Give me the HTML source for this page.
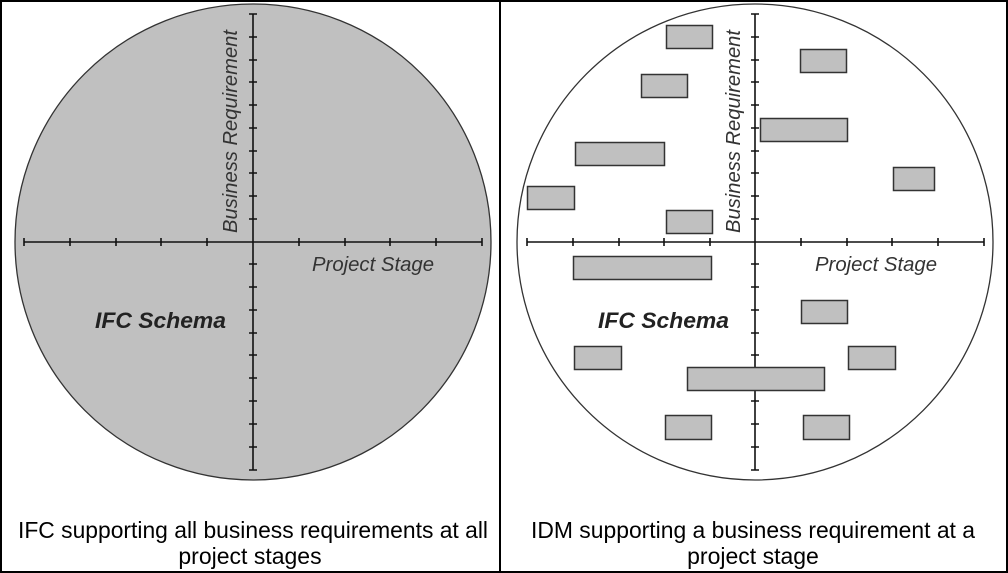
<!DOCTYPE html>
<html><head><style>
html,body{margin:0;padding:0;background:#fff}
svg{display:block}
</style></head><body>
<svg width="1008" height="573" viewBox="0 0 1008 573" xmlns="http://www.w3.org/2000/svg" font-family="Liberation Sans, Arial, sans-serif">
<rect x="1" y="1" width="1006" height="571" fill="#fff" stroke="#000" stroke-width="2"/>
<line x1="500" y1="0" x2="500" y2="573" stroke="#000" stroke-width="2"/>

<!-- Left panel -->
<circle cx="253" cy="242" r="238" fill="#c0c0c0" stroke="#333" stroke-width="1.3"/>
<g stroke="#111" stroke-width="1.6" fill="none">
<line x1="24" y1="242" x2="482" y2="242"/>
<line x1="253" y1="14" x2="253" y2="470"/>
<path d="M24 238v8M70 238v8M116 238v8M161 238v8M207 238v8M299 238v8M345 238v8M390 238v8M436 238v8M482 238v8"/>
<path d="M249 14h8M249 37h8M249 60h8M249 82h8M249 105h8M249 128h8M249 151h8M249 173h8M249 196h8M249 219h8M249 264h8M249 287h8M249 310h8M249 333h8M249 355h8M249 378h8M249 401h8M249 424h8M249 447h8M249 470h8"/>
</g>
<text transform="translate(237,233) rotate(-90)" font-size="20" font-style="italic" fill="#333" textLength="203" lengthAdjust="spacingAndGlyphs">Business Requirement</text>
<text x="312" y="271" font-size="20" font-style="italic" fill="#333" textLength="122" lengthAdjust="spacingAndGlyphs">Project Stage</text>
<text x="95" y="328" font-size="22" font-style="italic" font-weight="bold" fill="#222" textLength="131" lengthAdjust="spacingAndGlyphs">IFC Schema</text>
<text x="253" y="538" font-size="23" text-anchor="middle" fill="#000" textLength="470" lengthAdjust="spacingAndGlyphs">IFC supporting all business requirements at all</text>
<text x="250" y="564" font-size="23" text-anchor="middle" fill="#000">project stages</text>

<!-- Right panel -->
<circle cx="755" cy="242" r="238" fill="#fff" stroke="#333" stroke-width="1.3"/>
<g stroke="#111" stroke-width="1.6" fill="none">
<line x1="527" y1="242" x2="984" y2="242"/>
<line x1="755" y1="14" x2="755" y2="470"/>
<path d="M527 238v8M573 238v8M619 238v8M664 238v8M710 238v8M801 238v8M847 238v8M892 238v8M938 238v8M984 238v8"/>
<path d="M751 14h8M751 37h8M751 60h8M751 82h8M751 105h8M751 128h8M751 151h8M751 173h8M751 196h8M751 219h8M751 264h8M751 287h8M751 310h8M751 333h8M751 355h8M751 378h8M751 401h8M751 424h8M751 447h8M751 470h8"/>
</g>
<g fill="#c0c0c0" stroke="#333" stroke-width="1.5">
<rect x="666.5" y="25.5" width="46" height="23"/>
<rect x="800.5" y="49.5" width="46" height="23"/>
<rect x="641.5" y="74.5" width="46" height="23"/>
<rect x="760.5" y="118.5" width="87" height="23"/>
<rect x="575.5" y="142.5" width="89" height="23"/>
<rect x="893.5" y="167.5" width="41" height="23"/>
<rect x="527.5" y="186.5" width="47" height="23"/>
<rect x="666.5" y="210.5" width="46" height="23"/>
<rect x="573.5" y="256.5" width="138" height="23"/>
<rect x="801.5" y="300.5" width="46" height="23"/>
<rect x="574.5" y="346.5" width="47" height="23"/>
<rect x="848.5" y="346.5" width="47" height="23"/>
<rect x="687.5" y="367.5" width="137" height="23"/>
<rect x="665.5" y="415.5" width="46" height="24"/>
<rect x="803.5" y="415.5" width="46" height="24"/>
</g>
<text transform="translate(740,233) rotate(-90)" font-size="20" font-style="italic" fill="#333" textLength="203" lengthAdjust="spacingAndGlyphs">Business Requirement</text>
<text x="815" y="271" font-size="20" font-style="italic" fill="#333" textLength="122" lengthAdjust="spacingAndGlyphs">Project Stage</text>
<text x="598" y="328" font-size="22" font-style="italic" font-weight="bold" fill="#222" textLength="131" lengthAdjust="spacingAndGlyphs">IFC Schema</text>
<text x="753" y="538" font-size="23" text-anchor="middle" fill="#000" textLength="444" lengthAdjust="spacingAndGlyphs">IDM supporting a business requirement at a</text>
<text x="753" y="564" font-size="23" text-anchor="middle" fill="#000">project stage</text>
</svg>
</body></html>
